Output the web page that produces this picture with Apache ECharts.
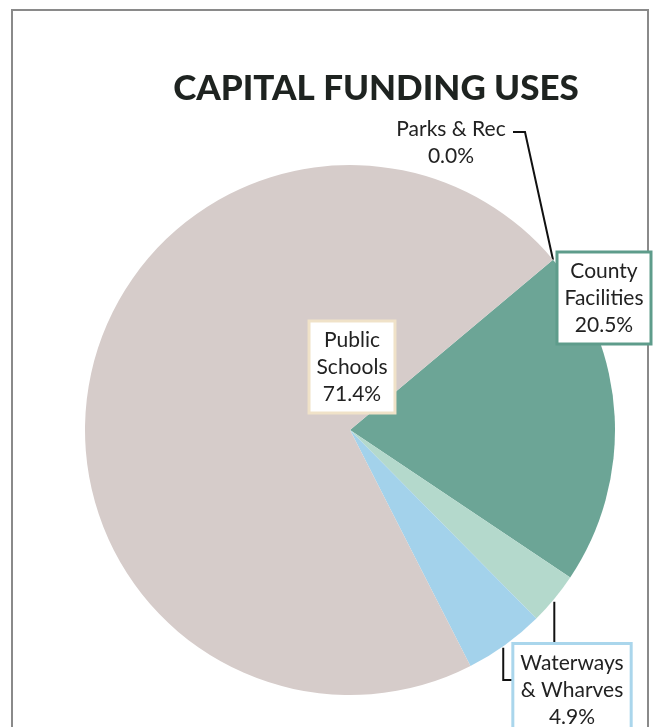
<!DOCTYPE html>
<html>
<head>
<meta charset="utf-8">
<script src="https://cdn.jsdelivr.net/npm/echarts@6/dist/echarts.min.js"></script>
<style>
html,body{margin:0;padding:0;background:#fff;}
#chart{width:653px;height:727px;}
</style>
</head>
<body>
<div id="chart"></div>
<script>
// Data (clockwise from the Parks & Rec leader line)
const categories = ['Parks & Rec', 'County Facilities', 'Other', 'Waterways & Wharves', 'Public Schools'];
const labelNames = ['Parks & Rec', 'County\nFacilities', '', 'Waterways\n& Wharves', 'Public\nSchools'];
const values = [0.0, 20.5, 3.2, 4.9, 71.4];
const colors = ['#e6b98f', '#6ca596', '#b4d9cc', '#a3d2eb', '#d6ccca'];

const chart = echarts.init(document.getElementById('chart'));

const labelFont = 'Lato, "Open Sans", sans-serif';

const labelStyles = [
  { // Parks & Rec
    backgroundColor: 'transparent', borderWidth: 0, padding: [0, 0]
  },
  { // County Facilities
    backgroundColor: '#fff', borderColor: '#5e9c8b', borderWidth: 3, padding: [4, 6, 4, 6]
  },
  { // Other (hidden behind Waterways label)
    backgroundColor: 'transparent', borderWidth: 0, padding: 0
  },
  { // Waterways
    backgroundColor: '#fff', borderColor: '#aad6ec', borderWidth: 3, padding: [5, 6, 4, 6]
  },
  { // Public Schools
    backgroundColor: '#fff', borderColor: '#f0e2c8', borderWidth: 3, padding: [4, 6, 4, 6]
  }
];

const data = categories.map((c, i) => ({
  name: c,
  value: values[i],
  itemStyle: { color: colors[i] },
  label: Object.assign({
    show: true,
    formatter: (p) => labelNames[i] === '' ? ' ' : labelNames[i] + '\n' + p.percent.toFixed(1) + '%',
    color: '#222',
    fontFamily: labelFont,
    fontSize: 21,
    lineHeight: 27,
    align: 'center'
  }, labelStyles[i]),
  labelLine: {
    show: i !== 4,
    lineStyle: { color: '#111', width: 2 }
  }
}));

// Label placement (layout only)
const labelPlace = [
  { x: 451, y: 143, bend: [[525, 132], [513, 132]] },
  { x: 604, y: 298, bend: null },
  { x: 554, y: 660, bend: 'down' },
  { x: 572, y: 645, bend: 'hook' },
  { x: 352, y: 367, bend: null }
];

const option = {
  backgroundColor: '#fff',
  animation: false,
  title: {
    text: 'CAPITAL FUNDING USES',
    left: 371,
    top: 66,
    textAlign: 'center',
    textStyle: {
      fontFamily: labelFont,
      fontWeight: 900,
      fontSize: 35,
      color: '#1e2320'
    }
  },
  graphic: [{
    type: 'rect',
    shape: { x: 12, y: 10, width: 636, height: 740 },
    style: { fill: 'none', stroke: '#8a8a8a', lineWidth: 2 },
    silent: true,
    z: 0
  }],
  series: [{
    type: 'pie',
    center: [350, 430],
    radius: 265,
    startAngle: 40,
    clockwise: true,
    minAngle: 0,
    avoidLabelOverlap: false,
    label: { position: 'outside' },
    itemStyle: { borderWidth: 0 },
    data: data,
    labelLayout: function (params) {
      const i = params.dataIndex;
      const pl = labelPlace[i];
      const pts = params.labelLinePoints;
      const edge = pts ? pts[0] : null;
      const out = { x: pl.x, y: pl.y, align: 'center', verticalAlign: 'middle' };
      if (i === 3) { out.verticalAlign = 'top'; }
      if (edge) {
        if (i === 0) {
          out.labelLinePoints = [edge, pl.bend[0], pl.bend[1]];
        } else if (i === 2) {
          out.labelLinePoints = [[edge[0], edge[1] + 3], [edge[0], edge[1] + 20], [edge[0], 645]];
        } else if (i === 3) {
          out.labelLinePoints = [[edge[0] - 2, edge[1] + 3], [edge[0] - 2, 680], [512, 680]];
        } else if (i === 1) {
          out.labelLinePoints = [edge, edge, edge];
        }
      }
      return out;
    }
  }]
};

chart.setOption(option);
</script>
</body>
</html>
